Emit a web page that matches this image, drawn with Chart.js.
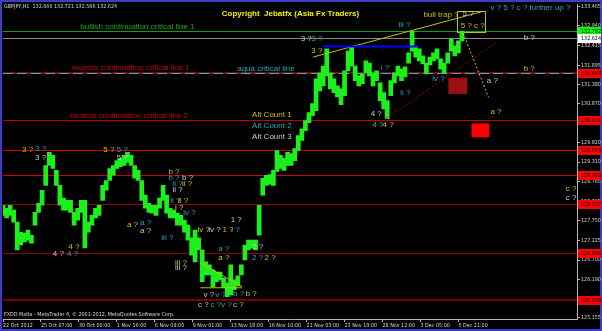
<!DOCTYPE html>
<html>
<head>
<meta charset="utf-8">
<title>GBPJPY H1</title>
<script src="https://cdn.jsdelivr.net/npm/chart.js@4.4.1/dist/chart.umd.min.js"></script>
<style>
  html, body { margin: 0; padding: 0; background: #000; }
  canvas { display: block; }
</style>
</head>
<body>
<canvas id="chart" width="602" height="331"></canvas>
<script>
// ---- data ----
const timeLabels = ['22 Oct 2012', '25 Oct 07:00', '30 Oct 00:00', '1 Nov 16:00', '6 Nov 09:00', '9 Nov 01:00',
  '13 Nov 18:00', '16 Nov 10:00', '21 Nov 03:00', '23 Nov 19:00', '28 Nov 12:00', '3 Dec 05:00', '5 Dec 21:00'];
const timeTickBars = [0, 64, 128, 192, 256, 320, 384, 448, 512, 576, 640, 704, 768];

const priceTicks = [133.465, 132.940, 132.415, 131.895, 131.380, 130.870, 130.345, 129.820, 129.310,
  128.785, 128.265, 127.750, 127.225, 126.700, 126.190, 125.670, 125.155];

const barStep = 6; // one sample = 6 H1 bars
const highs = [128.16, 128.08, 128.16, 128.03, 127.71, 127.44, 127.42, 127.50, 127.36, 127.97,
  128.21, 128.56, 129.22, 129.57, 129.49, 129.09, 128.69, 128.35, 128.29, 128.29,
  127.97, 128.08, 128.29, 128.29, 127.71, 127.89, 128.08, 128.16, 128.69, 128.82,
  129.14, 129.22, 129.35, 129.41, 129.49, 129.57, 129.49, 129.22, 129.09, 128.82,
  128.43, 128.21, 128.16, 128.16, 128.35, 128.69, 128.43, 128.08, 128.03, 127.95,
  127.89, 127.76, 127.63, 127.29, 127.50, 127.29, 126.97, 126.65, 126.57, 126.44,
  126.38, 126.38, 126.22, 126.09, 126.57, 126.17, 126.28, 126.57, 127.10, 127.23,
  127.23, 127.23, 128.16, 128.88, 128.96, 128.98, 129.09, 129.62, 129.49, 129.41,
  129.57, 129.54, 129.67, 130.02, 130.20, 130.42, 130.63, 130.87, 131.53, 131.69,
  131.87, 132.33, 131.69, 131.53, 131.34, 131.26, 131.74, 132.27, 132.40, 131.87,
  131.61, 131.66, 132.01, 131.95, 131.69, 131.74, 131.42, 131.16, 130.95, 131.48,
  131.69, 131.87, 131.79, 131.85, 132.22, 132.80, 132.40, 132.33, 132.14, 131.95,
  132.11, 132.22, 132.33, 132.06, 131.95, 132.22, 132.59, 132.40, 132.54, 132.80];
const lows = [127.89, 127.82, 127.89, 127.71, 126.97, 127.10, 127.18, 127.23, 127.15, 127.63,
  127.97, 128.16, 128.69, 129.22, 129.14, 128.69, 128.16, 128.03, 128.03, 127.97,
  127.63, 127.76, 127.97, 127.02, 127.44, 127.63, 127.82, 127.89, 128.29, 128.56,
  128.82, 128.96, 129.14, 129.19, 129.22, 129.30, 129.22, 128.88, 128.82, 128.29,
  128.08, 127.97, 127.95, 127.89, 128.08, 128.29, 127.95, 127.82, 127.82, 127.63,
  127.63, 127.44, 127.23, 126.83, 126.65, 126.97, 126.12, 126.30, 126.30, 125.98,
  126.12, 126.17, 125.96, 125.72, 125.77, 125.91, 126.01, 126.30, 126.70, 126.97,
  127.02, 126.97, 127.36, 128.43, 128.69, 128.72, 128.69, 129.06, 129.14, 129.09,
  129.22, 129.22, 129.35, 129.62, 129.89, 130.15, 130.36, 130.55, 130.68, 131.21,
  131.34, 131.61, 131.26, 131.16, 131.05, 130.84, 131.08, 131.74, 131.87, 131.48,
  131.34, 131.40, 131.69, 131.61, 131.34, 131.48, 130.95, 130.73, 130.47, 131.08,
  131.42, 131.61, 131.48, 131.58, 131.95, 132.27, 132.11, 132.01, 131.93, 131.66,
  131.90, 132.01, 132.06, 131.79, 131.69, 131.95, 132.27, 132.14, 132.22, 132.54];

// horizontal objects (price levels)
const levelPrices = [132.792, 132.624, 131.683, 130.421, 129.643, 128.963, 128.197, 126.886, 125.638];
const levelNames = ['bullish continuation critical line 1', '', 'bearish continuation critical line 1',
  'bearish continuation critical line 2', '', '', '', '', ''];
const levelNameBars = [323, 0, 315, 312, 0, 0, 0, 0, 0];

// trend lines: [bar1, price1, bar2, price2]
const trendLines = [
  [540, 132.39, 700, 132.39],
  [523, 132.11, 810, 133.33],
  [646, 130.47, 833, 132.51],
  [333, 126.62, 403, 125.99],
  [333, 125.96, 403, 125.96],
  [776, 132.75, 819, 131.03]
];
// rectangles: [bar1, price1, bar2, price2]
const boxes = [
  [751, 131.56, 783, 131.13],
  [790, 130.34, 820, 129.97],
  [766, 133.33, 814, 132.76]
];

// wave counts: text, bar, price, count (1 = yellow, 2 = aqua, 3 = white)
const waveLabels = [
  ['3 ?', 32, 129.65, 1], ['3 ?', 54, 129.67, 2], ['3 ?', 54, 129.43, 3],
  ['5 ?', 169, 129.65, 1], ['5 ?', 192, 129.65, 2], ['5 ?', 192, 129.43, 3],
  ['4 ?', 110, 127.05, 1], ['4 ?', 84, 126.86, 3], ['4 ?', 108, 126.86, 2],
  ['a ?', 209, 127.63, 1], ['a ?', 231, 127.68, 2], ['a ?', 231, 127.47, 3],
  ['b ?', 279, 129.06, 1], ['b ?', 279, 128.88, 2], ['b ?', 302, 128.88, 3],
  ['ii ?', 286, 128.72, 2], ['ii ?', 302, 128.72, 1], ['ii ?', 286, 128.56, 3],
  ['ii ?', 282, 128.29, 2], ['ii ?', 295, 128.29, 1], ['i ?', 290, 128.08, 3],
  ['iv ?', 304, 127.95, 2], ['iii ?', 267, 127.29, 2],
  ['iii ?', 290, 126.62, 1], ['iii ?', 290, 126.49, 3],
  ['iv ?', 328, 127.50, 1], ['iv ?', 346, 127.50, 3], ['1 ?', 370, 127.50, 1], ['i ?', 385, 127.50, 2],
  ['1 ?', 384, 127.76, 3], ['a ?', 363, 126.99, 2], ['a ?', 363, 126.75, 1],
  ['2 ?', 420, 127.05, 3], ['2 ?', 420, 126.75, 2], ['2 ?', 441, 126.75, 1],
  ['v ?', 338, 125.77, 3], ['v ?', 358, 125.77, 2], ['b ?', 388, 125.80, 2], ['b ?', 409, 125.80, 1],
  ['c ?', 329, 125.51, 3], ['c ?', 350, 125.51, 2], ['v ?', 368, 125.51, 2], ['c ?', 388, 125.51, 1],
  ['3 ?', 502, 132.59, 3], ['3 ?', 520, 132.59, 2], ['3 ?', 520, 132.27, 1],
  ['i ?', 637, 131.82, 2], ['iii ?', 667, 132.96, 2], ['ii ?', 670, 131.16, 2], ['iv ?', 724, 131.53, 2],
  ['4 ?', 620, 130.60, 3], ['4 ?', 623, 130.31, 2], ['4 ?', 640, 130.31, 1],
  ['bull trap ?', 709, 133.23, 1], ['5 ?', 775, 133.25, 3], ['5 ? c ?', 772, 132.93, 1],
  ['v ? 5 ? c ? further up ?', 822, 133.41, 2],
  ['b ?', 878, 132.62, 3], ['b ?', 878, 131.79, 1], ['a ?', 816, 131.48, 3], ['a ?', 822, 130.65, 1],
  ['c ?', 949, 128.61, 1], ['c ?', 949, 128.35, 3],
  ['Alt Count 1', 420, 130.57, 1], ['Alt Count 2', 420, 130.28, 2], ['Alt Count 3', 420, 129.99, 3],
  ['aqua critical line', 395, 131.79, 2]
];

// ---- styles ----
const countColors = { 1: '#c8c000', 2: '#22a8b8', 3: '#c8c8c8' };
const levelColors = ['#10a010', '#8a8a8a', '#8c0000', '#c40000', '#d00000', '#d00000', '#960000', '#900000', '#780000'];
const levelWidths = [1, 1, 2, 1, 1, 1, 1, 1, 2];
const levelTagColors = ['#00ff00', '#ffffff', '#ff0000', '#ff0000', '#ff0000', '#ff0000', '#ff0000', '#ff0000', '#ff0000'];
const trendColors = ['#0000ff', '#c8c000', '#a00000', '#c8c000', '#c8c000', '#c8c000'];
const trendWidths = [2, 1, 1, 1, 1, 1];
const trendDashes = [[], [], [2, 2], [], [], [2, 2]];
const boxFills = ['#9a1010', '#ff0000', null];
const boxStrokes = [null, null, '#c8c000'];

// pick an axis font size so that a price label is ~20px wide, like MT4's small font
const axisFamily = "'Liberation Sans Narrow', 'DejaVu Sans Condensed', 'Liberation Sans', sans-serif";
const axisSize = (function () {
  const m = document.createElement('canvas').getContext('2d');
  m.font = '10px ' + axisFamily;
  return Math.min(8, 10 * 20 / m.measureText('133.465').width);
})();
const labelFont = "8px 'Liberation Sans', Arial, sans-serif";

const mtPlugin = {
  id: 'mt',
  beforeDraw(chart) {
    const c = chart.ctx;
    c.save();
    c.fillStyle = '#3c3cc4';
    c.fillRect(0, 0, chart.width, chart.height);
    c.fillStyle = '#000000';
    c.fillRect(2, 2, chart.width - 4, chart.height - 4);
    c.restore();
  },
  beforeDatasetsDraw(chart) {
    const { ctx: c, chartArea: a, scales: { x, y } } = chart;
    c.save();
    levelPrices.forEach((p, i) => {
      const w = levelWidths[i];
      const py = Math.round(y.getPixelForValue(p)) + (w % 2 ? 0.5 : 0);
      c.strokeStyle = levelColors[i];
      c.lineWidth = w;
      c.setLineDash([]);
      c.beginPath(); c.moveTo(a.left, py); c.lineTo(a.right, py); c.stroke();
      if (i === 2) { // aqua critical line sits on the same level
        c.strokeStyle = '#3cb4c8';
        c.lineWidth = 1;
        c.setLineDash([10, 4]);
        c.beginPath(); c.moveTo(a.left, py + 0.5); c.lineTo(a.right, py + 0.5); c.stroke();
      }
    });
    c.setLineDash([]);
    boxes.forEach((b, i) => {
      const x1 = x.getPixelForValue(b[0]), x2 = x.getPixelForValue(b[2]);
      const y1 = y.getPixelForValue(b[1]), y2 = y.getPixelForValue(b[3]);
      if (boxFills[i]) { c.fillStyle = boxFills[i]; c.fillRect(x1, y1, x2 - x1, y2 - y1); }
      if (boxStrokes[i]) { c.strokeStyle = boxStrokes[i]; c.lineWidth = 1; c.strokeRect(Math.round(x1) + 0.5, Math.round(y1) + 0.5, Math.round(x2 - x1), Math.round(y2 - y1)); }
    });
    c.restore();
  },
  afterDatasetsDraw(chart) {
    const { ctx: c, scales: { x, y } } = chart;
    c.save();
    c.font = labelFont;
    c.textBaseline = 'middle';
    // level descriptions, right aligned
    c.textAlign = 'right';
    levelNames.forEach((t, i) => {
      if (!t) return;
      c.fillStyle = i === 0 ? '#10b010' : '#c80000';
      c.fillText(t, x.getPixelForValue(levelNameBars[i]), y.getPixelForValue(levelPrices[i]) - 5);
    });
    c.textAlign = 'left';
    waveLabels.forEach(([t, b, p, k]) => {
      c.fillStyle = countColors[k];
      c.fillText(t, x.getPixelForValue(b), y.getPixelForValue(p));
    });
    c.font = "bold 8px 'Liberation Sans', Arial, sans-serif";
    c.fillStyle = '#f0f000';
    c.fillText('Copyright  Jebatfx (Asia Fx Traders)', x.getPixelForValue(369), y.getPixelForValue(133.25));
    c.restore();
  },
  afterDraw(chart) {
    const { ctx: c, chartArea: a, scales: { y } } = chart;
    c.save();
    c.font = axisSize.toFixed(2) + 'px ' + axisFamily;
    c.textBaseline = 'middle';
    c.textAlign = 'left';
    levelPrices.forEach((p, i) => {
      const py = Math.round(y.getPixelForValue(p));
      c.fillStyle = levelTagColors[i];
      c.fillRect(a.right + 1, py - 4, 23, 9);
      c.fillStyle = '#000000';
      c.fillText(p.toFixed(3), a.right + 4, py + 0.5);
    });
    c.fillStyle = '#d8d8d8';
    c.fillText('GBPJPY,H1  132.666 132.721 132.586 132.624', 4, 7);
    c.fillText('FXDD Malta - MetaTrader 4, \u00a9 2001-2012, MetaQuotes Software Corp.', 4, 315);
    c.restore();
  }
};

const datasets = trendLines.map((t, i) => ({
  type: 'line',
  data: [{ x: t[0], y: t[1] }, { x: t[2], y: t[3] }],
  borderColor: trendColors[i],
  borderWidth: trendWidths[i],
  borderDash: trendDashes[i],
  pointRadius: 0,
  fill: false,
  order: 0
}));
datasets.push({
  type: 'bar',
  data: highs.map((h, i) => ({ x: i * barStep, y: [lows[i], h] })),
  backgroundColor: '#1cf01c',
  borderWidth: 0,
  barThickness: 4,
  order: 1
});

new Chart(document.getElementById('chart'), {
  type: 'bar',
  data: { datasets },
  plugins: [mtPlugin],
  options: {
    responsive: false,
    devicePixelRatio: 1,
    animation: false,
    events: [],
    layout: { padding: { left: 3, top: 3, right: 0, bottom: 0 } },
    plugins: { legend: { display: false }, tooltip: { enabled: false } },
    scales: {
      x: {
        type: 'linear',
        min: 0,
        max: 968,
        offset: false,
        grid: { offset: false, drawOnChartArea: false, color: '#b4b4b4', tickLength: 3 },
        border: { display: true, color: '#b4b4b4' },
        afterBuildTicks: axis => { axis.ticks = timeTickBars.map(v => ({ value: v })); },
        afterFit: axis => { axis.height = 12; },
        ticks: {
          autoSkip: false, maxRotation: 0, minRotation: 0, align: 'start', padding: 0,
          color: '#d8d8d8', font: { family: axisFamily, size: axisSize },
          callback: (v, i) => timeLabels[i]
        }
      },
      y: {
        type: 'linear',
        position: 'right',
        min: 125.128,
        max: 133.518,
        grid: { drawOnChartArea: false, color: '#b4b4b4', tickLength: 3 },
        border: { display: true, color: '#b4b4b4' },
        afterBuildTicks: axis => { axis.ticks = priceTicks.map(v => ({ value: v })); },
        afterFit: axis => { axis.width = 25; },
        ticks: {
          autoSkip: false, padding: 1,
          color: '#d8d8d8', font: { family: axisFamily, size: axisSize },
          callback: v => v.toFixed(3)
        }
      }
    }
  }
});
</script>
</body>
</html>
